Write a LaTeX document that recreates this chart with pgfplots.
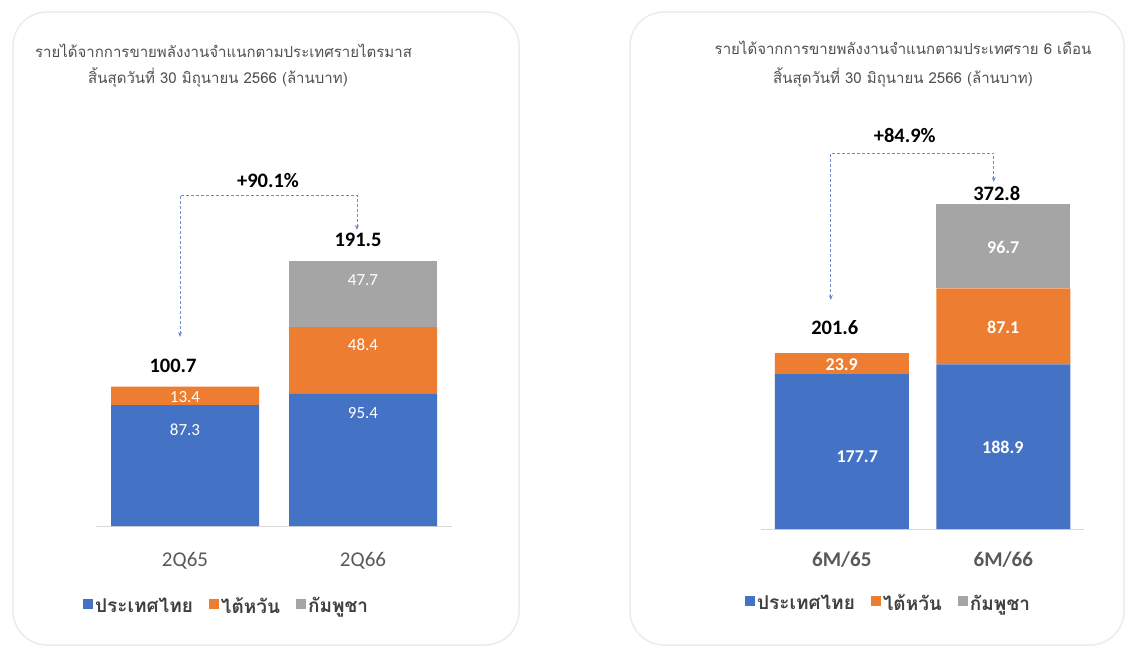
\documentclass[border=0pt]{standalone}
\usepackage{fontspec}
\usepackage{pgfplots}
\pgfplotsset{compat=1.18}
\usetikzlibrary{arrows.meta}
\setmainfont{Carlito}
\newfontfamily\thaifont[Script=Thai]{Loma}
\definecolor{cblue}{HTML}{4472C4}
\definecolor{corange}{HTML}{ED7D31}
\definecolor{cgray}{HTML}{A5A5A5}
\definecolor{ctext}{HTML}{595959}
\definecolor{ctitle}{HTML}{505050}
\definecolor{clegend}{HTML}{404040}
\definecolor{carrow}{HTML}{6F8CC8}
\definecolor{cframe}{HTML}{ECECEC}
\definecolor{caxis}{HTML}{D9D9D9}
\newcommand{\fs}[1]{\fontsize{#1pt}{#1pt}\selectfont}

\pgfplotsset{
  barpanel/.style={
    scale only axis, ybar stacked, ymin=0, xmin=-0.5, xmax=1.5,
    anchor=south west, clip=false,
    axis y line=none, axis x line=bottom,
    x axis line style={-, draw=caxis, line width=1pt},
    xtick={0,1}, xtick style={draw=none},
    xticklabel style={text=ctext, anchor=base},
    legend columns=3,
    legend style={draw=none, fill=none, anchor=center,
      font=\thaifont\bfseries\fs{19}\color{clegend},
      /tikz/every even column/.append style={column sep=14pt},
      nodes={inner sep=2pt}},
    legend image code/.code={\fill[##1, draw=none] (0pt,-3pt) rectangle (10pt,7pt);},
  },
  labelpanel/.style={
    scale only axis, ymin=0, xmin=-0.5, xmax=1.5,
    anchor=south west, clip=false, hide axis,
  },
}

\begin{document}
\begin{tikzpicture}[x=1pt, y=1pt]
\path[use as bounding box, fill=white] (0,0) rectangle (1130,651);
\draw[cframe, line width=1.5pt, rounded corners=34pt] (13,639) rectangle (519,6);
\draw[cframe, line width=1.5pt, rounded corners=34pt] (630,639) rectangle (1124,6);

% titles
\node[anchor=base, text=ctitle, font=\thaifont\fs{15}] at (223.5,593) {รายได้จากการขายพลังงานจำแนกตามประเทศรายไตรมาส};
\node[anchor=base, text=ctitle, font=\thaifont\fs{15}] at (218,567) {สิ้นสุดวันที่ 30 มิถุนายน 2566 (ล้านบาท)};
\node[anchor=base, text=ctitle, font=\thaifont\fs{15}] at (903,596) {รายได้จากการขายพลังงานจำแนกตามประเทศราย 6 เดือน};
\node[anchor=base, text=ctitle, font=\thaifont\fs{15}] at (903,567) {สิ้นสุดวันที่ 30 มิถุนายน 2566 (ล้านบาท)};

% ---------- left panel ----------
\begin{axis}[barpanel, at={(96pt,125pt)}, width=356pt, height=359.8pt, ymax=260,
  bar width=148pt,
  xticklabels={2Q65,2Q66},
  xticklabel style={font=\fs{21}, yshift=-38pt},
  legend style={at={(0.367,-0.222)}}]
\addplot[fill=cblue, draw=none] coordinates {(0,87.3) (1,95.4)};
\addplot[fill=corange, draw=none] coordinates {(0,13.4) (1,48.4)};
\addplot[fill=cgray, draw=none] coordinates {(0,0) (1,47.7)};
\legend{ประเทศไทย, ไต้หวัน, กัมพูชา}
\end{axis}
\begin{axis}[labelpanel, at={(96pt,125pt)}, width=356pt, height=359.8pt, ymax=260]
\addplot[draw=none, mark=none, nodes near coords, point meta=explicit symbolic,
  every node near coord/.append style={anchor=center, text=white, font=\fs{17}}]
  table[meta=lab] {
x y lab
0 69.4 87.3
0 93.2 13.4
1 81.6 95.4
1 130.8 48.4
1 177.7 47.7
};
\addplot[draw=none, mark=none, nodes near coords, point meta=explicit symbolic,
  every node near coord/.append style={anchor=center, text=black, font=\bfseries\fs{20.5}}]
  table[meta=lab] {
x y lab
-0.067 115.6 100.7
0.972 206.6 191.5
0.466 249.3 +90.1\%
};
\draw[carrow, line width=0.9pt, dash pattern=on 3pt off 2pt,
  {Stealth[length=5pt,width=4pt]}-{Stealth[length=5pt,width=4pt]}]
  (axis cs:-0.028,136.6) |- (axis cs:0.966,239.2) -- (axis cs:0.966,213.9);
\end{axis}

% ---------- right panel ----------
\begin{axis}[barpanel, at={(761pt,122pt)}, width=323pt, height=392.4pt, ymax=450,
  bar width=134pt,
  xticklabels={6M/65,6M/66},
  xticklabel style={font=\bfseries\fs{21}, yshift=-35pt},
  legend style={at={(0.395,-0.189)}}]
\addplot[fill=cblue, draw=none] coordinates {(0,177.7) (1,188.9)};
\addplot[fill=corange, draw=none] coordinates {(0,23.9) (1,87.1)};
\addplot[fill=cgray, draw=none] coordinates {(0,0) (1,96.7)};
\legend{ประเทศไทย, ไต้หวัน, กัมพูชา}
\end{axis}
\begin{axis}[labelpanel, at={(761pt,122pt)}, width=323pt, height=392.4pt, ymax=450]
\addplot[draw=none, mark=none, nodes near coords, point meta=explicit symbolic,
  every node near coord/.append style={anchor=center, text=white, font=\bfseries\fs{18}}]
  table[meta=lab] {
x y lab
0.096 82.6 177.7
0 188.1 23.9
0.997 94.0 188.9
1 231.7 87.1
1 323.4 96.7
};
\addplot[draw=none, mark=none, nodes near coords, point meta=explicit symbolic,
  every node near coord/.append style={anchor=center, text=black, font=\bfseries\fs{20.5}}]
  table[meta=lab] {
x y lab
-0.043 230.5 201.6
0.960 385.3 372.8
0.390 451.8 +84.9\%
};
\draw[carrow, line width=0.9pt, dash pattern=on 3pt off 2pt,
  {Stealth[length=5pt,width=4pt]}-{Stealth[length=5pt,width=4pt]}]
  (axis cs:-0.068,262.6) |- (axis cs:0.941,431.2) -- (axis cs:0.941,397.9);
\end{axis}
\end{tikzpicture}
\end{document}
